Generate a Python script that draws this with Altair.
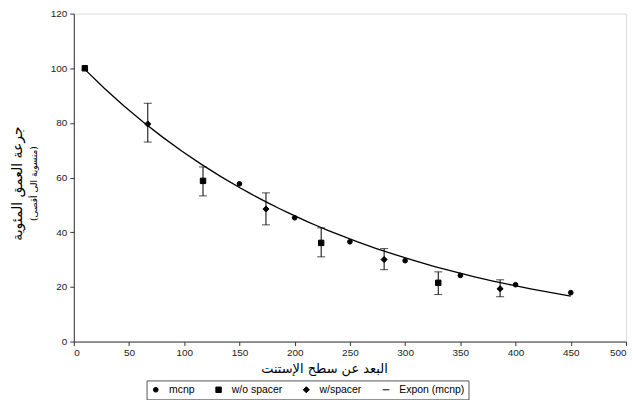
import altair as alt
import pandas as pd

# ---- data ----
mcnp_x = [10, 150, 200, 250, 300, 350, 400, 450]
mcnp_y = [100.0, 57.7, 45.3, 36.5, 29.6, 24.2, 20.8, 17.9]

wo_x = [10, 117, 224, 330]
wo_y = [100.0, 58.8, 36.1, 21.5]
wo_lo = [None, 53.3, 31.0, 17.2]
wo_hi = [None, 63.9, 41.6, 25.5]

ws_x = [67, 174, 281, 386]
ws_y = [79.6, 48.5, 30.0, 19.3]
ws_lo = [73.0, 42.7, 26.3, 16.4]
ws_hi = [87.2, 54.4, 34.0, 22.6]

series_names = ["mcnp", "w/o spacer", "w/spacer", "Expon (mcnp)"]
x_ticks = [0, 50, 100, 150, 200, 250, 300, 350, 400, 450, 500]
y_ticks = [0, 20, 40, 60, 80, 100, 120]

x_title = "البعد عن سطح الإستنت"
y_title = "جرعة العمق المئوية"
y_subtitle = "(منسوبة الى أقصى)"

rows = []
for x, y in zip(mcnp_x, mcnp_y):
    rows.append({"series": "mcnp", "x": x, "y": y, "lo": None, "hi": None})
for x, y, lo, hi in zip(wo_x, wo_y, wo_lo, wo_hi):
    rows.append({"series": "w/o spacer", "x": x, "y": y, "lo": lo, "hi": hi})
for x, y, lo, hi in zip(ws_x, ws_y, ws_lo, ws_hi):
    rows.append({"series": "w/spacer", "x": x, "y": y, "lo": lo, "hi": hi})
df = pd.DataFrame(rows)
df_mcnp = df[df["series"] == "mcnp"]
df_err = df[df["lo"].notna()]

LBL_FONT = "Liberation Sans"
AR_FONT = "DejaVu Sans"

x_scale = alt.Scale(domain=[0, 500], nice=False)
y_scale = alt.Scale(domain=[0, 120], nice=False)

x_axis = alt.Axis(values=x_ticks, grid=False, title=x_title, titleFont=AR_FONT,
                  titleFontSize=13, titleFontWeight="normal", titleColor="black",
                  titleX=251, titleY=21, titleAlign="center", titleBaseline="top",
                  labelFont=LBL_FONT, labelFontSize=10, labelColor="#222",
                  tickSize=4, tickColor="#333", domainColor="#333", labelPadding=2)
y_axis = alt.Axis(values=y_ticks, grid=False, title=y_title, titleFont=AR_FONT,
                  titleFontSize=14, titleFontWeight="normal", titleColor="black",
                  titleAngle=270, titleX=-49, titleY=170, titleAlign="center",
                  titleBaseline="bottom",
                  labelFont=LBL_FONT, labelFontSize=10, labelColor="#222",
                  tickSize=4, tickColor="#333", domainColor="#333", labelPadding=3)
y_axis2 = alt.Axis(orient="left", grid=False, labels=False, ticks=False, domain=False,
                   title=y_subtitle, titleFont=AR_FONT, titleFontSize=9,
                   titleFontWeight="normal", titleColor="black",
                   titleAngle=270, titleX=-35, titleY=170, titleAlign="center",
                   titleBaseline="bottom")

shape_scale = alt.Scale(domain=series_names,
                        range=["circle", "square", "diamond", "stroke"])
size_scale = alt.Scale(domain=series_names, range=[22, 45, 16, 30])

legend = alt.Legend(orient="none", legendX=73, legendY=368,
                    direction="horizontal", title=None,
                    labelFont=LBL_FONT, labelFontSize=10.5,
                    labelColor="black",
                    strokeColor="#555", padding=4,
                    symbolStrokeColor="black",
                    symbolFillColor="black",
                    symbolStrokeWidth=1,
                    columnPadding=18, labelOffset=8)

line = alt.Chart(df_mcnp).transform_regression(
    "x", "y", method="exp", extent=[10, 450]
).mark_line(color="black", strokeWidth=1.3).encode(
    x=alt.X("x:Q", scale=x_scale, axis=x_axis),
    y=alt.Y("y:Q", scale=y_scale, axis=y_axis),
)

err_rule = alt.Chart(df_err).mark_rule(color="black", strokeWidth=1).encode(
    x=alt.X("x:Q", scale=x_scale, axis=x_axis),
    y=alt.Y("lo:Q", scale=y_scale, axis=y_axis2),
    y2="hi:Q",
)
cap_lo = alt.Chart(df_err).mark_tick(color="black", orient="horizontal",
                                     size=8, thickness=1).encode(
    x=alt.X("x:Q", scale=x_scale, axis=x_axis),
    y=alt.Y("lo:Q", scale=y_scale, axis=None),
)
cap_hi = alt.Chart(df_err).mark_tick(color="black", orient="horizontal",
                                     size=8, thickness=1).encode(
    x=alt.X("x:Q", scale=x_scale, axis=x_axis),
    y=alt.Y("hi:Q", scale=y_scale, axis=None),
)

points = alt.Chart(df).mark_point(filled=True, fill="black", stroke="black",
                                  strokeWidth=1, opacity=1).encode(
    x=alt.X("x:Q", scale=x_scale, axis=x_axis),
    y=alt.Y("y:Q", scale=y_scale, axis=None),
    shape=alt.Shape("series:N", scale=shape_scale, legend=legend),
    size=alt.Size("series:N", scale=size_scale),
)

chart = alt.layer(line, err_rule, cap_lo, cap_hi, points).resolve_axis(
    y="independent"
).properties(
    width=554, height=329,
    padding={"left": 66, "top": 5, "right": 2, "bottom": 58},
    autosize=alt.AutoSizeParams(type="none"),
).configure_view(stroke="#333", strokeWidth=1).configure(background="white")

chart.save("out.html", embed_options={"renderer": "svg", "actions": False})
